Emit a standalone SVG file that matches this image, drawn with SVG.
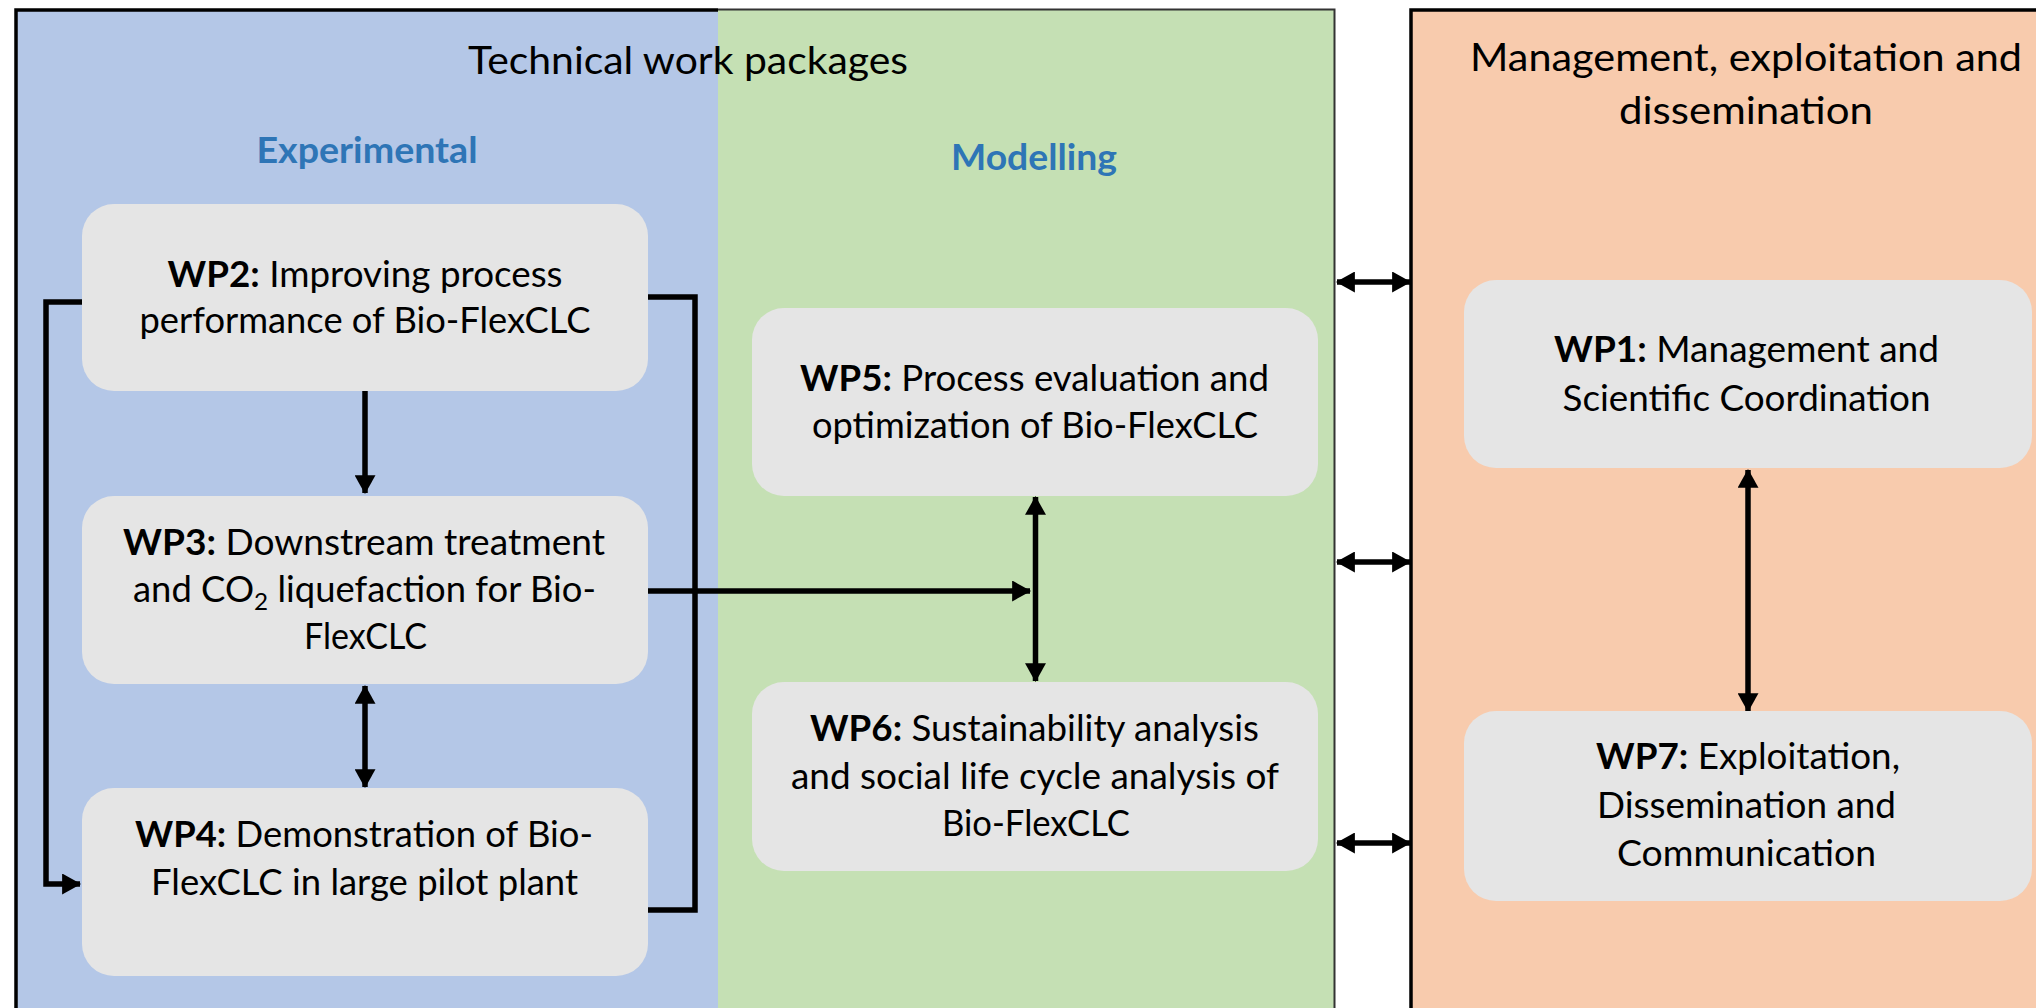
<svg xmlns="http://www.w3.org/2000/svg" width="2036" height="1008" viewBox="0 0 2036 1008">
<defs>
<style>
.t{font-family:Lato,"Liberation Sans","DejaVu Sans",sans-serif;fill:#000;}
.h{font-size:39.5px;}
.n{font-size:36px;}
.sub{font-size:36px;font-weight:bold;fill:#2e75b6;}
.box{fill:#e5e5e5;}
.ln{fill:none;stroke:#000;stroke-width:5.5;}
.b{font-weight:bold;}
</style>
<marker id="ah" markerUnits="userSpaceOnUse" markerWidth="20" markerHeight="21" viewBox="0 0 18 20" refX="17" refY="10" orient="auto-start-reverse">
<path d="M0,0 L18,10 L0,20 Z" fill="#000"/>
</marker>
</defs>
<rect width="2036" height="1008" fill="#fff"/>
<g id="regions">
<rect x="16" y="10" width="702" height="1010" fill="#b4c7e7"/>
<rect x="718" y="10" width="617" height="1010" fill="#c5e0b4"/>
<rect x="1411" y="10" width="640" height="1010" fill="#f8cbad"/>
<path d="M16,1020 V10 H718" fill="none" stroke="#000" stroke-width="3.5"/>
<path d="M718,9.5 H1334.5 V1020" fill="none" stroke="#333" stroke-width="2"/>
<path d="M1411,1020 V10 H2040" fill="none" stroke="#000" stroke-width="3.5"/>
</g>
<g id="headings">
<text class="t h" x="688" y="74" text-anchor="middle" textLength="440" lengthAdjust="spacingAndGlyphs">Technical work packages</text>
<text class="t sub" x="367" y="163" text-anchor="middle" textLength="221" lengthAdjust="spacingAndGlyphs">Experimental</text>
<text class="t sub" x="1034" y="170" text-anchor="middle" textLength="166" lengthAdjust="spacingAndGlyphs">Modelling</text>
<text class="t h" x="1746" y="71" text-anchor="middle" textLength="552" lengthAdjust="spacingAndGlyphs">Management, exploitation and</text>
<text class="t h" x="1746" y="124" text-anchor="middle" textLength="254" lengthAdjust="spacingAndGlyphs">dissemination</text>
</g>
<g id="connectors">
<path class="ln" d="M365,391 V493" marker-end="url(#ah)"/>
<path class="ln" d="M365,686 V787" marker-start="url(#ah)" marker-end="url(#ah)"/>
<path class="ln" d="M84,302 H46 V884 H80" marker-end="url(#ah)"/>
<path class="ln" d="M648,297 H695 V910 H646"/>
<path class="ln" d="M648,591 H1030" marker-end="url(#ah)"/>
<path class="ln" d="M1035.5,497 V681" marker-start="url(#ah)" marker-end="url(#ah)"/>
<path class="ln" d="M1748,470 V711" marker-start="url(#ah)" marker-end="url(#ah)"/>
<path class="ln" d="M1337,282 H1410" marker-start="url(#ah)" marker-end="url(#ah)"/>
<path class="ln" d="M1337,562 H1410" marker-start="url(#ah)" marker-end="url(#ah)"/>
<path class="ln" d="M1337,843 H1410" marker-start="url(#ah)" marker-end="url(#ah)"/>
</g>
<g id="wp2">
<rect class="box" x="82" y="204" width="566" height="187" rx="32"/>
<text class="t n" x="365" y="287" text-anchor="middle" textLength="395" lengthAdjust="spacingAndGlyphs"><tspan class="b">WP2:</tspan> Improving process</text>
<text class="t n" x="365" y="333" text-anchor="middle" textLength="451" lengthAdjust="spacingAndGlyphs">performance of Bio-FlexCLC</text>
</g>
<g id="wp3">
<rect class="box" x="82" y="496" width="566" height="188" rx="32"/>
<text class="t n" x="364" y="555" text-anchor="middle" textLength="482" lengthAdjust="spacingAndGlyphs"><tspan class="b">WP3:</tspan> Downstream treatment</text>
<text class="t n" x="364.5" y="602" text-anchor="middle" textLength="463" lengthAdjust="spacingAndGlyphs">and CO<tspan dy="8" font-size="24">2</tspan><tspan dy="-8"> liquefaction for Bio-</tspan></text>
<text class="t n" x="365.5" y="649" text-anchor="middle" textLength="123" lengthAdjust="spacingAndGlyphs">FlexCLC</text>
</g>
<g id="wp4">
<rect class="box" x="82" y="788" width="566" height="188" rx="32"/>
<text class="t n" x="364" y="847" text-anchor="middle" textLength="458" lengthAdjust="spacingAndGlyphs"><tspan class="b">WP4:</tspan> Demonstration of Bio-</text>
<text class="t n" x="364.5" y="895" text-anchor="middle" textLength="427" lengthAdjust="spacingAndGlyphs">FlexCLC in large pilot plant</text>
</g>
<g id="wp5">
<rect class="box" x="752" y="308" width="566" height="188" rx="32"/>
<text class="t n" x="1034.5" y="391" text-anchor="middle" textLength="469" lengthAdjust="spacingAndGlyphs"><tspan class="b">WP5:</tspan> Process evaluation and</text>
<text class="t n" x="1035" y="438" text-anchor="middle" textLength="446" lengthAdjust="spacingAndGlyphs">optimization of Bio-FlexCLC</text>
</g>
<g id="wp6">
<rect class="box" x="752" y="682" width="566" height="189" rx="32"/>
<text class="t n" x="1034.5" y="741" text-anchor="middle" textLength="449" lengthAdjust="spacingAndGlyphs"><tspan class="b">WP6:</tspan> Sustainability analysis</text>
<text class="t n" x="1035" y="789" text-anchor="middle" textLength="488" lengthAdjust="spacingAndGlyphs">and social life cycle analysis of</text>
<text class="t n" x="1036" y="836" text-anchor="middle" textLength="188" lengthAdjust="spacingAndGlyphs">Bio-FlexCLC</text>
</g>
<g id="wp1">
<rect class="box" x="1464" y="280" width="568" height="188" rx="32"/>
<text class="t n" x="1746.5" y="362" text-anchor="middle" textLength="385" lengthAdjust="spacingAndGlyphs"><tspan class="b">WP1:</tspan> Management and</text>
<text class="t n" x="1746.5" y="411" text-anchor="middle" textLength="368" lengthAdjust="spacingAndGlyphs">Scientific Coordination</text>
</g>
<g id="wp7">
<rect class="box" x="1464" y="711" width="568" height="190" rx="32"/>
<text class="t n" x="1748" y="769" text-anchor="middle" textLength="304" lengthAdjust="spacingAndGlyphs"><tspan class="b">WP7:</tspan> Exploitation,</text>
<text class="t n" x="1746.5" y="818" text-anchor="middle" textLength="299" lengthAdjust="spacingAndGlyphs">Dissemination and</text>
<text class="t n" x="1746.5" y="866" text-anchor="middle" textLength="259" lengthAdjust="spacingAndGlyphs">Communication</text>
</g>
</svg>
